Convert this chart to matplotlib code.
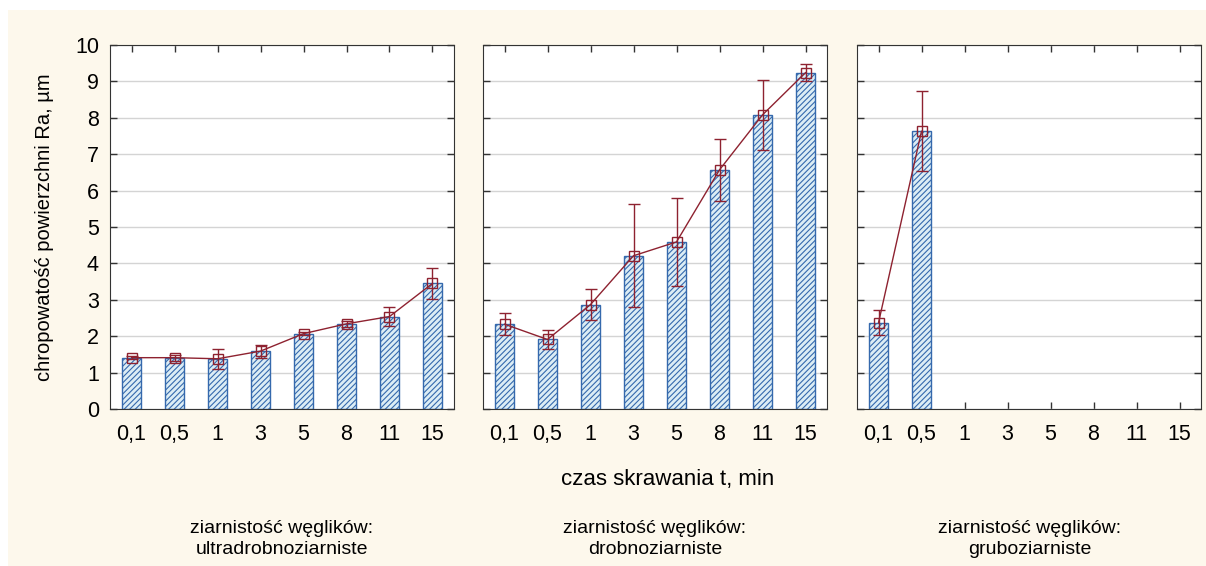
import numpy as np
import matplotlib.pyplot as plt
from matplotlib.patches import Rectangle

plt.rcParams['font.family'] = ['Liberation Sans', 'DejaVu Sans']
plt.rcParams['hatch.linewidth'] = 0.8

times = ['0,1', '0,5', '1', '3', '5', '8', '11', '15']
groups = ['ziarnistość węglików:\nultradrobnoziarniste',
          'ziarnistość węglików:\ndrobnoziarniste',
          'ziarnistość węglików:\ngruboziarniste']

ra_ultra = [1.41, 1.41, 1.38, 1.59, 2.07, 2.34, 2.54, 3.45]
err_ultra = [0.05, 0.08, 0.27, 0.18, 0.05, 0.08, 0.25, 0.42]
ra_drob = [2.33, 1.91, 2.87, 4.21, 4.59, 6.57, 8.08, 9.24]
err_drob = [0.30, 0.27, 0.42, 1.42, 1.20, 0.86, 0.96, 0.24]
ra_grub = [2.37, 7.63]
err_grub = [0.35, 1.10]

series = [(ra_ultra, err_ultra), (ra_drob, err_drob), (ra_grub, err_grub)]

bg = '#fdf8ec'
bar_face = '#dcedf5'
bar_edge = '#3569ad'
red = '#8e2230'

fig = plt.figure(figsize=(12.06, 5.66), dpi=100, facecolor='white')
fig.patches.append(Rectangle((8 / 1206, 0), 1, 1 - 10 / 566, transform=fig.transFigure,
                             facecolor=bg, edgecolor='none', zorder=-10))

lefts = [110, 483, 857]
centers = [282, 655, 1030]
for i, (vals, errs) in enumerate(series):
    ax = fig.add_axes([lefts[i] / 1206, 1 - 409 / 566, 344 / 1206, 364 / 566])
    x = np.arange(len(vals))
    ax.bar(x, vals, width=0.43, color=bar_face, edgecolor=bar_edge, hatch='//////',
           linewidth=1.0, zorder=2)
    ax.errorbar(x, vals, yerr=errs, color=red, lw=1.0, marker='s', ms=7,
                mfc='none', mec=red, mew=1.0, capsize=4, elinewidth=1.0, zorder=3)
    ax.set_xlim(-0.5, 7.5)
    ax.set_ylim(0, 10)
    ax.set_xticks(np.arange(len(times)))
    ax.set_xticklabels(times)
    ax.set_yticks(np.arange(0, 11, 1))
    ax.yaxis.grid(True, color='#d4d4d4', lw=1.0, zorder=0)
    ax.set_axisbelow(True)
    ax.tick_params(direction='in', top=True, right=True, length=5, width=1,
                   color='#333333', labelsize=15.5)
    ax.tick_params(axis='x', pad=11)
    ax.tick_params(axis='y', pad=8)
    if i > 0:
        ax.tick_params(labelleft=False)
    for s in ax.spines.values():
        s.set_color('#333333')
    fig.text(centers[i] / 1206, 1 - 539 / 566, groups[i], ha='center', va='center',
             fontsize=14, linespacing=1.3)

fig.text(45 / 1206, 1 - 227 / 566, 'chropowatość powierzchni Ra, µm', rotation=90,
         ha='center', va='center', fontsize=14.5)
fig.text(668 / 1206, 1 - 480 / 566, 'czas skrawania t, min', ha='center', va='center',
         fontsize=16)

fig.savefig('out.png', dpi=100, facecolor=fig.get_facecolor())
